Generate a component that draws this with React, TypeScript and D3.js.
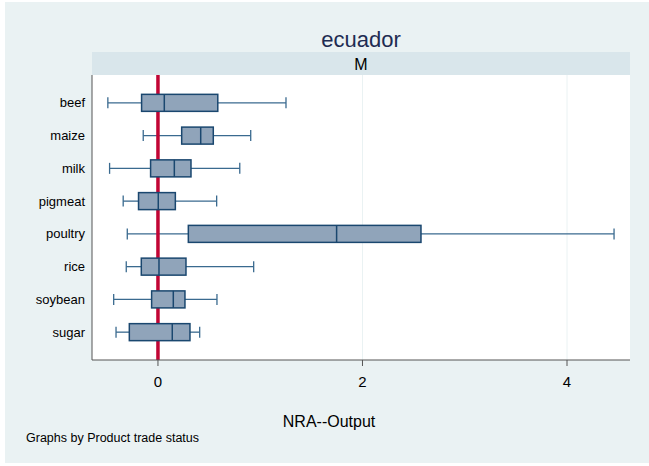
import React from "react";
import * as d3 from "d3";

const categories = ["beef", "maize", "milk", "pigmeat", "poultry", "rice", "soybean", "sugar"];
const lowWhisker = [-0.49, -0.144, -0.473, -0.34, -0.30, -0.31, -0.433, -0.41];
const q1 = [-0.16, 0.232, -0.072, -0.19, 0.297, -0.163, -0.062, -0.28];
const median = [0.062, 0.418, 0.16, 0.003, 1.747, 0.01, 0.15, 0.14];
const q3 = [0.585, 0.541, 0.323, 0.17, 2.572, 0.274, 0.264, 0.313];
const highWhisker = [1.252, 0.907, 0.80, 0.574, 4.46, 0.936, 0.577, 0.408];
const xTicks = [0, 2, 4];

const W = 649;
const H = 466;
const plotL = 92;
const plotR = 630;
const plotT = 75;
const plotB = 360;

export default function App() {
  const x = d3.scaleLinear().domain([-0.645, 4.616]).range([plotL, plotR]);
  const y = d3.scalePoint<string>().domain(categories).range([plotT, plotB]).padding(0.85);
  const boxH = 17;
  const capH = 11;
  const font = "Liberation Sans, Arial, sans-serif";
  const navy = "#1a476f";
  const whisk = "#3a6a8f";

  return (
    <svg width={W} height={H} style={{ position: "absolute", left: 0, top: 0 }} fontFamily={font}>
      <rect x={0} y={0} width={W} height={H} fill="#ffffff" />
      <rect x={5} y={2} width={W - 5} height={461} fill="#eaf2f3" />
      {/* strip */}
      <rect x={plotL} y={52} width={plotR - plotL} height={plotT - 52} fill="#d9e6eb" />
      <text x={(plotL + plotR) / 2} y={70} textAnchor="middle" fontSize={16} fill="#000">M</text>
      {/* plot area */}
      <rect x={plotL} y={plotT} width={plotR - plotL} height={plotB - plotT} fill="#ffffff" />
      {xTicks.map((t) => (
        <line key={"g" + t} x1={x(t)} x2={x(t)} y1={plotT} y2={plotB} stroke="#eaf2f3" strokeWidth={1} />
      ))}
      {/* whiskers */}
      {categories.map((c, i) => {
        const cy = y(c)!;
        return (
          <g key={"w" + c} stroke={whisk} strokeWidth={1.3} fill="none">
            <line x1={x(lowWhisker[i])} x2={x(q1[i])} y1={cy} y2={cy} />
            <line x1={x(q3[i])} x2={x(highWhisker[i])} y1={cy} y2={cy} />
            <line x1={x(lowWhisker[i])} x2={x(lowWhisker[i])} y1={cy - capH / 2} y2={cy + capH / 2} />
            <line x1={x(highWhisker[i])} x2={x(highWhisker[i])} y1={cy - capH / 2} y2={cy + capH / 2} />
          </g>
        );
      })}
      {/* reference line */}
      <line x1={x(0)} x2={x(0)} y1={plotT} y2={plotB} stroke="#c10534" strokeWidth={3.5} />
      {/* boxes */}
      {categories.map((c, i) => {
        const cy = y(c)!;
        return (
          <g key={"b" + c}>
            <rect x={x(q1[i])} y={cy - boxH / 2} width={x(q3[i]) - x(q1[i])} height={boxH} fill="#90a4ba" stroke={navy} strokeWidth={1.5} />
            <line x1={x(median[i])} x2={x(median[i])} y1={cy - boxH / 2} y2={cy + boxH / 2} stroke={navy} strokeWidth={1.5} />
          </g>
        );
      })}
      {/* axes */}
      <line x1={plotL} x2={plotL} y1={plotT} y2={plotB} stroke="#555" strokeWidth={1} />
      <line x1={plotL} x2={plotR} y1={plotB} y2={plotB} stroke="#555" strokeWidth={1} />
      {xTicks.map((t) => (
        <g key={"t" + t}>
          <line x1={x(t)} x2={x(t)} y1={plotB} y2={plotB + 6} stroke="#555" strokeWidth={1} />
          <text x={x(t)} y={plotB + 27} textAnchor="middle" fontSize={15} fill="#000">{t}</text>
        </g>
      ))}
      {categories.map((c) => (
        <text key={"l" + c} x={85} y={y(c)! + 4.5} textAnchor="end" fontSize={13} fill="#000">{c}</text>
      ))}
      <text x={361} y={47} textAnchor="middle" fontSize={22} fill="#1e2c52">ecuador</text>
      <text x={329} y={427} textAnchor="middle" fontSize={16} fill="#000">NRA--Output</text>
      <text x={26} y={442} fontSize={12.5} fill="#000">Graphs by Product trade status</text>
    </svg>
  );
}
